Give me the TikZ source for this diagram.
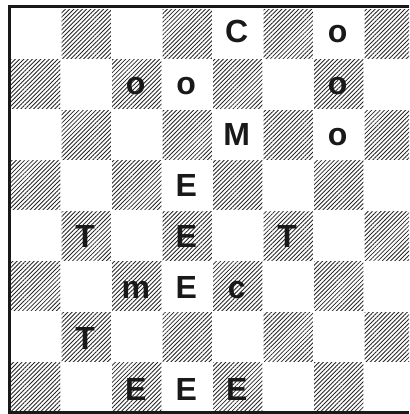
\documentclass[tikz,border=0pt]{standalone}
\usepackage{fontspec}
\setmainfont{Liberation Sans}
\usetikzlibrary{patterns.meta}
\tikzset{
  cell/.style={pattern={Lines[angle=45,distance=3pt,line width=0.85pt]},pattern color=black!85},
  piece/.style={anchor=base,inner sep=0pt,font=\fontsize{32}{32}\selectfont\bfseries,text=black!90},
  frame/.style={line width=3pt,black!90}
}
\begin{document}
\begin{tikzpicture}[x=1pt,y=-1pt]
\useasboundingbox (0,0) rectangle (409,414);
\begin{scope}
\clip (0,0) rectangle (409,414);
\foreach \i in {0,...,7}{
  \foreach \j in {0,...,7}{
    \pgfmathparse{int(mod(\i+\j,2))}
    \ifnum\pgfmathresult=1
      \path[cell] ({10.5+50.5*\j+0.7},{8.5+50.5*\i+0.7}) rectangle ++(49.1,49.1);
    \fi
  }
}
\end{scope}
\coordinate (tl) at (9.5,6.5);
\coordinate (tr) at (409,6.5);
\coordinate (bl) at (9.5,412.5);
\coordinate (br) at (409,412.5);
\draw[frame] (tr) -- (tl) -- (bl) -- (br);
% letters: x = 9.5+50.5*(j+0.5), baseline = 43+51.1*i
\node[piece] (r0c4) at ({9.5+50.5*4.5},{43}) {C};
\node[piece] (r0c6) at ({9.5+50.5*6.5},{43}) {o};
\node[piece] (r1c2) at ({9.5+50.5*2.5},{43+51.1}) {o};
\node[piece] (r1c3) at ({9.5+50.5*3.5},{43+51.1}) {o};
\node[piece] (r1c6) at ({9.5+50.5*6.5},{43+51.1}) {o};
\node[piece] (r2c4) at ({9.5+50.5*4.5},{43+51.1*2}) {M};
\node[piece] (r2c6) at ({9.5+50.5*6.5},{43+51.1*2}) {o};
\node[piece] (r3c3) at ({9.5+50.5*3.5},{43+51.1*3}) {E};
\node[piece] (r4c1) at ({9.5+50.5*1.5},{43+51.1*4}) {T};
\node[piece] (r4c3) at ({9.5+50.5*3.5},{43+51.1*4}) {E};
\node[piece] (r4c5) at ({9.5+50.5*5.5},{43+51.1*4}) {T};
\node[piece] (r5c2) at ({9.5+50.5*2.5},{43+51.1*5}) {m};
\node[piece] (r5c3) at ({9.5+50.5*3.5},{43+51.1*5}) {E};
\node[piece] (r5c4) at ({9.5+50.5*4.5},{43+51.1*5}) {c};
\node[piece] (r6c1) at ({9.5+50.5*1.5},{43+51.1*6}) {T};
\node[piece] (r7c2) at ({9.5+50.5*2.5},{43+51.1*7}) {E};
\node[piece] (r7c3) at ({9.5+50.5*3.5},{43+51.1*7}) {E};
\node[piece] (r7c4) at ({9.5+50.5*4.5},{43+51.1*7}) {E};
\end{tikzpicture}
\end{document}
